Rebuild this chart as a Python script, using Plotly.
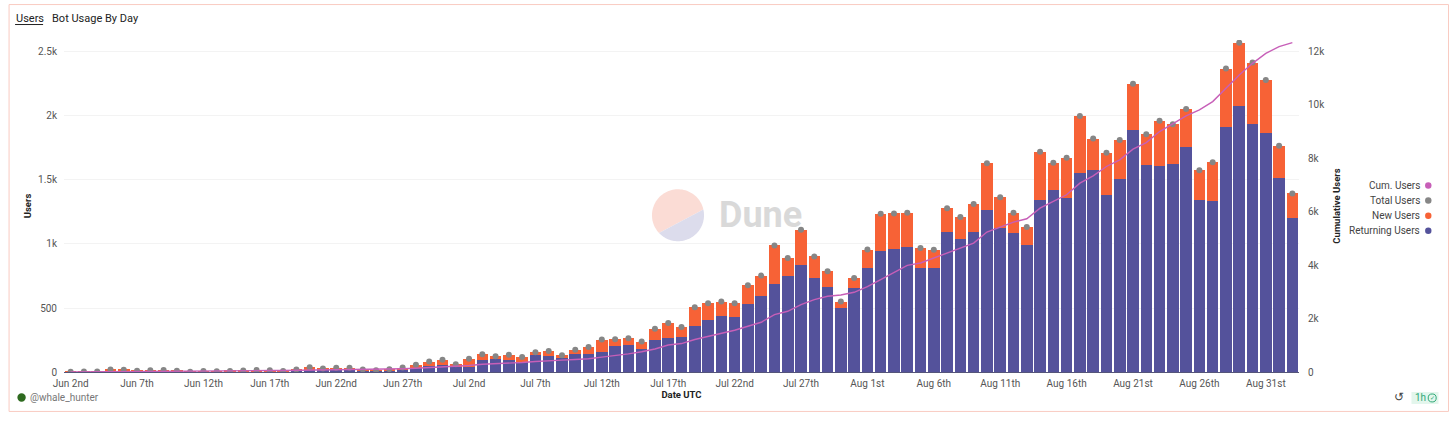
import numpy as np
import pandas as pd
import plotly.graph_objects as go

dates = pd.date_range("2023-06-02", "2023-09-02", freq="D")

total_users = [1,4,4,20,17,9,14,16,9,1,7,6,8,11,15,13,8,20,38,28,33,33,20,14,22,35,56,82,95,
    60,103,139,123,134,118,155,165,131,173,196,253,256,264,238,337,383,352,505,537,550,537,677,753,989,890,1111,903,787,550,735,
    957,1236,1239,1244,968,955,1280,1210,1312,1631,1366,1244,1132,1720,1634,1673,2000,1824,1712,1813,2252,1858,1962,1936,2055,1577,1639,2370,2573,2417,2282,
    1767,1395]
returning_users = [0,2,2,4,12,5,10,6,5,0,4,3,4,6,7,7,5,13,18,12,15,15,12,8,14,15,30,48,56,
    36,42,97,103,97,77,131,123,110,144,144,160,201,209,183,253,266,277,363,410,441,433,534,594,690,750,838,737,662,500,656,
    812,948,961,974,815,815,1096,1039,1093,1267,1127,1088,989,1345,1421,1361,1556,1577,1379,1509,1889,1621,1613,1626,1756,1345,1338,1912,2076,1936,1871,
    1512,1205]
cum_users = [0,2,4,10,14,17,20,27,30,30,33,36,40,44,50,55,58,62,72,80,90,100,104,108,112,122,138,160,185,
    210,245,290,305,318,355,392,430,445,470,495,555,605,680,760,860,1010,1065,1215,1327,1439,1564,1713,1863,2149,2274,2523,2710,2835,2884,2984,
    3195,3458,3732,3994,4081,4268,4454,4616,4828,5240,5426,5613,5738,6137,6386,6635,7071,7345,7694,7943,8342,8591,9002,9289,9588,9812,10124,10622,11120,11556,11930,
    12180,12330]
new_users = (np.array(total_users) - np.array(returning_users)).tolist()

x_tick_labels = ["Jun 2nd","Jun 7th","Jun 12th","Jun 17th","Jun 22nd","Jun 27th","Jul 2nd","Jul 7th","Jul 12th",
    "Jul 17th","Jul 22nd","Jul 27th","Aug 1st","Aug 6th","Aug 11th","Aug 16th","Aug 21st","Aug 26th","Aug 31st"]
x_tick_vals = dates[::5][:len(x_tick_labels)]
left_ticks = [0,500,1000,1500,2000,2500]
left_labels = ["0","500","1k","1.5k","2k","2.5k"]
right_ticks = [0,2000,4000,6000,8000,10000,12000]
right_labels = ["0","2k","4k","6k","8k","10k","12k"]
legend_items = ["Cum. Users","Total Users","New Users","Returning Users"]

W, H = 1456, 422
L, R, T, B = 64.4, 1298.6, 40.0, 372.5
FONT = "Roboto"
PURPLE, ORANGE, GREY, PINK = "#54529b", "#f76236", "#868686", "#c75fb8"

def px(v): return (v - L) / (R - L)
def py(v): return (B - v) / (B - T)

fig = go.Figure()
fig.add_bar(x=dates, y=returning_users, name="Returning Users", marker=dict(color=PURPLE, line_width=0))
fig.add_bar(x=dates, y=new_users, name="New Users", marker=dict(color=ORANGE, line_width=0))
fig.add_scatter(x=dates, y=total_users, name="Total Users", mode="markers",
                marker=dict(color=GREY, size=6))
fig.add_scatter(x=dates, y=cum_users, name="Cum. Users", mode="lines", yaxis="y2",
                line=dict(color=PINK, width=1.4))

shapes = []
# outer frame
shapes.append(dict(type="rect", xref="paper", yref="paper", x0=px(9.5), x1=px(1448), y0=py(412), y1=py(4.5),
                   line=dict(color="#f9cbc2", width=1), layer="below"))
# Dune logo
cx, cy, r = 678, 215.5, 26
def disc(a0, a1):
    t = np.radians(np.linspace(a0, a1, 60))
    pts = [(px(cx + r*np.cos(a)), py(cy - r*np.sin(a))) for a in t]
    return "M" + "L".join(f"{a:.5f},{b:.5f}" for a, b in pts) + "Z"
shapes.append(dict(type="path", xref="paper", yref="paper", path=disc(13, 223), fillcolor="#fbdcd5", line_width=0, layer="below"))
shapes.append(dict(type="path", xref="paper", yref="paper", path=disc(223, 373), fillcolor="#dcdcec", line_width=0, layer="below"))
# legend dots
leg_y = [185.7, 200.7, 216, 231]
leg_col = [PINK, GREY, ORANGE, PURPLE]
for yy, c in zip(leg_y, leg_col):
    shapes.append(dict(type="circle", xref="paper", yref="paper", x0=px(1424.6), x1=px(1431), y0=py(yy+3.2), y1=py(yy-3.2),
                       fillcolor=c, line_width=0))
# avatar
shapes.append(dict(type="circle", xref="paper", yref="paper", x0=px(17.8), x1=px(26.2), y0=py(402.2), y1=py(393.8),
                   fillcolor="#2e6a1f", line_width=0))
# 1h badge
shapes.append(dict(type="rect", xref="paper", yref="paper", x0=px(1411), x1=px(1438), y0=py(404.5), y1=py(392.5),
                   fillcolor="#e3f6ec", line_width=0))
shapes.append(dict(type="circle", xref="paper", yref="paper", x0=px(1427.7), x1=px(1435.7), y0=py(402.5), y1=py(394.5),
                   line=dict(color="#2fa877", width=1)))
# users underline
shapes.append(dict(type="line", xref="paper", yref="paper", x0=px(15.5), x1=px(43.5), y0=py(24.5), y1=py(24.5),
                   line=dict(color="#222", width=1)))

def ann(text, x, y, size=10, color="#555", anchor="left", **kw):
    return dict(text=text, xref="paper", yref="paper", x=px(x), y=py(y), xanchor=anchor, yanchor="middle",
                showarrow=False, font=dict(family=FONT, size=size, color=color), borderpad=0, **kw)

anns = [
    ann("Users", 15.5, 18.5, 11, "#222"),
    ann("Bot Usage By Day", 51.5, 18.5, 11, "#222"),
    ann("<b>Dune</b>", 718, 215.5, 36, "#d9d9d9"),
    ann("@whale_hunter", 29.5, 398, 10, "#777"),
    ann("1h", 1414, 398.5, 10, "#2fa877"),
    ann("✓", 1431.7, 398.3, 6, "#2fa877", anchor="center"),
    ann("↺", 1399, 397.5, 12, "#444", anchor="center"),
]
for name, yy in zip(legend_items, leg_y):
    anns.append(ann(name, 1420.5, yy, 10, "#444", anchor="right"))

fig.update_layout(
    width=W, height=H, barmode="stack", bargap=0.13, showlegend=False,
    plot_bgcolor="white", paper_bgcolor="white",
    font=dict(family=FONT, size=10, color="#555"),
    margin=dict(l=L, r=W-R, t=T, b=H-B, pad=0),
    shapes=shapes, annotations=anns,
    xaxis=dict(type="date", range=[dates[0] - pd.Timedelta(hours=12), dates[-1] + pd.Timedelta(hours=12)],
               tickmode="array", tickvals=list(x_tick_vals), ticktext=x_tick_labels,
               ticks="", showgrid=False, showline=True, linecolor="#55557a", linewidth=1, zeroline=False,
               tickfont=dict(size=10, color="#555"), ticklabelstandoff=2,
               title=dict(text="<b>Date UTC</b>", font=dict(size=9.5, color="#222"), standoff=3)),
    yaxis=dict(range=[0, (B-T)/(64.1/500)], tickmode="array", tickvals=left_ticks, ticktext=left_labels,
               showgrid=True, gridcolor="#f3f3f3", gridwidth=1, zeroline=False, showline=False, ticks="",
               ticklabelstandoff=6, tickfont=dict(size=10, color="#555"),
               title=dict(text="<b>Users</b>", font=dict(size=9.5, color="#222"), standoff=4)),
    yaxis2=dict(overlaying="y", side="right", range=[0, (B-T)/(321.0/12000)], tickmode="array", tickvals=right_ticks,
                ticktext=right_labels, showgrid=False, zeroline=False, showline=False, ticks="",
                ticklabelstandoff=8, tickfont=dict(size=10, color="#555"),
                title=dict(text="<b>Cumulative Users</b>", font=dict(size=9.5, color="#222"), standoff=9)),
)

fig.write_html("out.html", config=dict(displayModeBar=False), post_script="document.body.style.margin='0';")
